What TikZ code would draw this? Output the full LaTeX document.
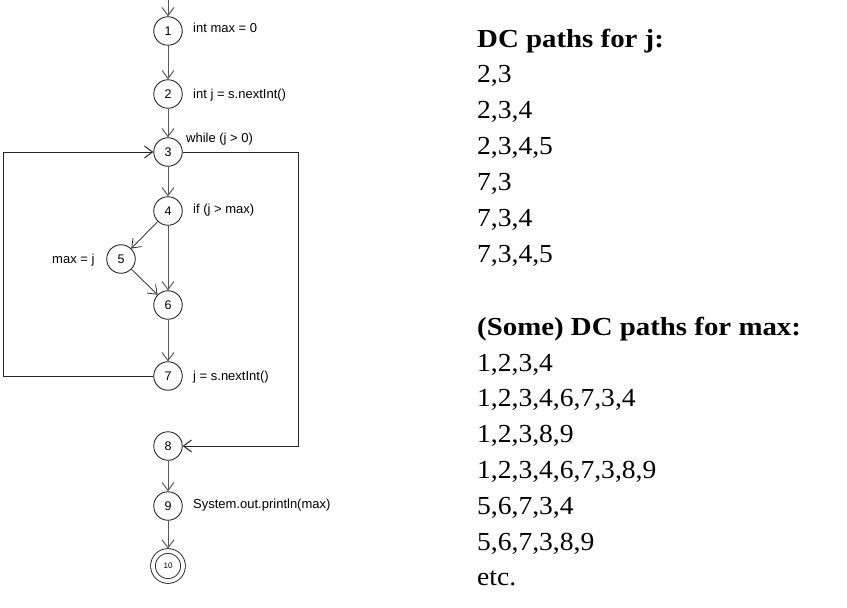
\documentclass[tikz,border=0pt]{standalone}
\usepackage{fontspec}
\setmainfont{Liberation Sans}
\newfontfamily\rfont[FakeStretch=1.06]{Liberation Serif}
\newfontfamily\rbfont[FakeStretch=1.11]{Liberation Serif Bold}
\usetikzlibrary{arrows.meta}
\begin{document}
\begin{tikzpicture}[x=1pt,y=-1pt,
  state/.style={circle,draw=black!85,line width=0.9pt,minimum size=28.5pt,inner sep=0pt,font=\fontsize{12.5}{14}\selectfont},
  edge/.style={draw=black!65,line width=1pt,-{Straight Barb[length=8pt,width=12pt]}},
  loopedge/.style={edge,draw=black!85},
  thinedge/.style={edge,draw=black!90,line width=0.7pt},
  lab/.style={anchor=base west,inner sep=0pt,font=\fontsize{13}{15}\selectfont},
  rt/.style={anchor=base west,inner sep=0pt,font=\rfont\fontsize{26}{30}\selectfont},
  rh/.style={anchor=base west,inner sep=0pt,font=\rbfont\fontsize{26}{30}\selectfont}]
\useasboundingbox (0,0) rectangle (847,608);
% graph nodes
\node[state] (n1) at (168,31) {1};
\node[state] (n2) at (168,94) {2};
\node[state] (n3) at (168,152) {3};
\node[state] (n4) at (168,211) {4};
\node[state] (n5) at (121,259) {5};
\node[state] (n6) at (168,305) {6};
\node[state] (n7) at (168,376) {7};
\node[state] (n8) at (168,446) {8};
\node[state] (n9) at (168,506) {9};
\node[state,minimum size=30pt,double,double distance=3.8pt,outer sep=2.4pt,font=\fontsize{8}{9}\selectfont] (n10) at (168,566) {10};
% coordinates
\coordinate (top) at (168,0);
\coordinate (L7) at (3,376);
\coordinate (L3) at (3,152);
\coordinate (R3) at (298,152);
\coordinate (R8) at (298,446);
% edges
\draw[edge] (top) -- (n1);
\draw[edge] (n1) -- (n2);
\draw[edge] (n2) -- (n3);
\draw[edge] (n3) -- (n4);
\draw[thinedge] (n4) -- (n5);
\draw[edge] (n4) -- (n6);
\draw[thinedge] (n5) -- (n6);
\draw[edge] (n6) -- (n7);
\draw[loopedge] (n7.west) -- (L7) -- (L3) -- (n3.west);
\draw[loopedge] (n3.east) -- (R3) -- (R8) -- (n8.east);
\draw[edge] (n8) -- (n9);
\draw[edge] (n9) -- (n10);
% labels
\node[lab] (l1) at (193,32) {int max = 0};
\node[lab] (l2) at (193,98) {int j = s.nextInt()};
\node[lab] (l3) at (186,142) {while (j > 0)};
\node[lab] (l4) at (193,213) {if (j > max)};
\node[lab] (l5) at (52,263) {max = j};
\node[lab] (l7) at (193,380) {j = s.nextInt()};
\node[lab] (l9) at (193,508) {System.out.println(max)};
% right text
\node[rh] (h1) at (477,47) {DC paths for j:};
\node[rt] (j1) at (477,82.9) {2,3};
\node[rt] (j2) at (477,118.8) {2,3,4};
\node[rt] (j3) at (477,154.7) {2,3,4,5};
\node[rt] (j4) at (477,190.6) {7,3};
\node[rt] (j5) at (477,226.5) {7,3,4};
\node[rt] (j6) at (477,262.4) {7,3,4,5};
\node[rh] (h2) at (477,335) {(Some) DC paths for max:};
\node[rt] (m1) at (477,371) {1,2,3,4};
\node[rt] (m2) at (477,406.5) {1,2,3,4,6,7,3,4};
\node[rt] (m3) at (477,442.5) {1,2,3,8,9};
\node[rt] (m4) at (477,478.5) {1,2,3,4,6,7,3,8,9};
\node[rt] (m5) at (477,514.2) {5,6,7,3,4};
\node[rt] (m6) at (477,550) {5,6,7,3,8,9};
\node[rt] (m7) at (477,585.7) {etc.};
\end{tikzpicture}
\end{document}
